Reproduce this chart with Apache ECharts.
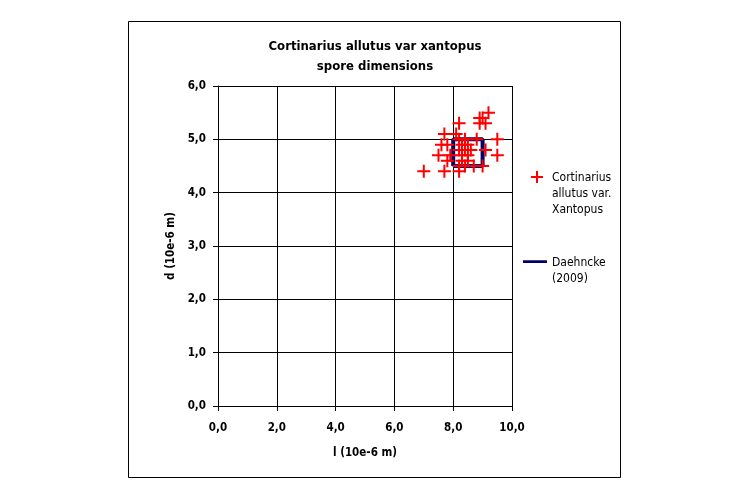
<!DOCTYPE html>
<html>
<head>
<meta charset="utf-8">
<script src="https://cdn.jsdelivr.net/npm/echarts@6/dist/echarts.min.js"></script>
<style>html,body{margin:0;padding:0;background:#fff;}#c{width:750px;height:500px;}</style>
</head>
<body>
<div id="c"></div>
<script>
var titleText = 'Cortinarius allutus var xantopus\nspore dimensions';
var xName = 'l (10e-6 m)';
var yName = 'd (10e-6 m)';
var seriesNames = ['Cortinarius allutus var. Xantopus', 'Daehncke (2009)'];
var legendLabels = ['Cortinarius\nallutus var.\nXantopus', 'Daehncke\n(2009)'];
var spores = [
  [9.2,5.5],[9.0,5.4],[8.9,5.4],[9.1,5.3],[8.9,5.3],[8.2,5.3],
  [7.7,5.1],[8.1,5.1],[8.2,5.0],[8.4,5.0],[8.8,5.0],[9.5,5.0],
  [7.6,4.9],[7.8,4.9],[8.3,4.9],[8.5,4.9],[8.2,4.8],[8.4,4.8],
  [8.6,4.8],[9.1,4.8],[7.5,4.7],[7.9,4.7],[8.3,4.7],[8.5,4.7],
  [9.5,4.7],[7.8,4.6],[8.3,4.6],[8.5,4.6],[8.2,4.5],[8.4,4.5],
  [8.7,4.5],[9.0,4.5],[7.0,4.4],[7.7,4.4],[8.2,4.4]
];
var daehncke = [[8.0,4.5],[8.0,5.0],[9.0,5.0],[9.0,4.5],[8.0,4.5]];

var FONT = '"DejaVu Sans Condensed", "DejaVu Sans", sans-serif';
var plusPath = 'path://M-1,-6.5L1,-6.5L1,-1L6.5,-1L6.5,1L1,1L1,6.5L-1,6.5L-1,1L-6.5,1L-6.5,-1L-1,-1Z';
var legendPlus = 'path://M5,0L7,0L7,5L12,5L12,7L7,7L7,12L5,12L5,7L0,7L0,5L5,5Z M16,46L16,46.01L15.99,46Z';
var legendBar = 'path://M0,4.5L26,4.5L26,7.5L0,7.5Z M26,28L26,28.01L25.99,28Z';
function fmt(v){ return v.toFixed(1).replace('.', ','); }

var chart = echarts.init(document.getElementById('c'), null, {renderer:'canvas'});
chart.setOption({
  animation: false,
  backgroundColor: '#fff',
  title: {
    text: titleText, left: 'center', top: 32,
    textStyle: {fontFamily: FONT, fontSize: 13, fontWeight: 'bold', color: '#000', lineHeight: 20}
  },
  graphic: [{
    type: 'rect', shape: {x: 128.5, y: 21.5, width: 492, height: 456},
    style: {fill: 'none', stroke: '#000', lineWidth: 1}, silent: true, z: -1
  }],
  legend: [{
    data: [{name: seriesNames[0], icon: legendPlus}],
    orient: 'vertical', left: 526, top: 165,
    itemWidth: 16, itemHeight: 46,
    formatter: function(){ return legendLabels[0]; },
    textStyle: {fontFamily: FONT, fontSize: 12, color: '#000', lineHeight: 16}
  }, {
    data: [{name: seriesNames[1], icon: legendBar}],
    orient: 'vertical', left: 518, top: 250,
    itemWidth: 24, itemHeight: 28,
    formatter: function(){ return legendLabels[1]; },
    textStyle: {fontFamily: FONT, fontSize: 12, color: '#000', lineHeight: 16}
  }],
  grid: {left: 218, top: 86, width: 294, height: 320},
  xAxis: {
    type: 'value', min: 0, max: 10, interval: 2,
    name: xName, nameLocation: 'middle', nameGap: 41,
    nameTextStyle: {fontFamily: FONT, fontSize: 11.5, fontWeight: 'bold', color: '#000'},
    axisLine: {show: true, lineStyle: {color: '#000', width: 1}},
    axisTick: {show: true, length: 5, lineStyle: {color: '#000'}},
    splitLine: {show: true, lineStyle: {color: '#000', width: 1}},
    axisLabel: {formatter: fmt, margin: 16, fontFamily: FONT, fontSize: 11.5, fontWeight: 'bold', color: '#000'}
  },
  yAxis: {
    type: 'value', min: 0, max: 6, interval: 1,
    name: yName, nameLocation: 'middle', nameGap: 41,
    nameTextStyle: {fontFamily: FONT, fontSize: 11.5, fontWeight: 'bold', color: '#000'},
    axisLine: {show: true, lineStyle: {color: '#000', width: 1}},
    axisTick: {show: true, length: 5, lineStyle: {color: '#000'}},
    splitLine: {show: true, lineStyle: {color: '#000', width: 1}},
    axisLabel: {formatter: fmt, margin: 12, fontFamily: FONT, fontSize: 11.5, fontWeight: 'bold', color: '#000'}
  },
  series: [{
    name: seriesNames[1], type: 'line', data: daehncke, symbol: 'none', z: 2,
    lineStyle: {color: '#000066', width: 4}, itemStyle: {color: '#000066'}
  }, {
    name: seriesNames[0], type: 'scatter', data: spores, z: 3,
    symbol: plusPath, symbolSize: 13,
    itemStyle: {color: '#ff0000', opacity: 1}
  }]
});
</script>
</body>
</html>
